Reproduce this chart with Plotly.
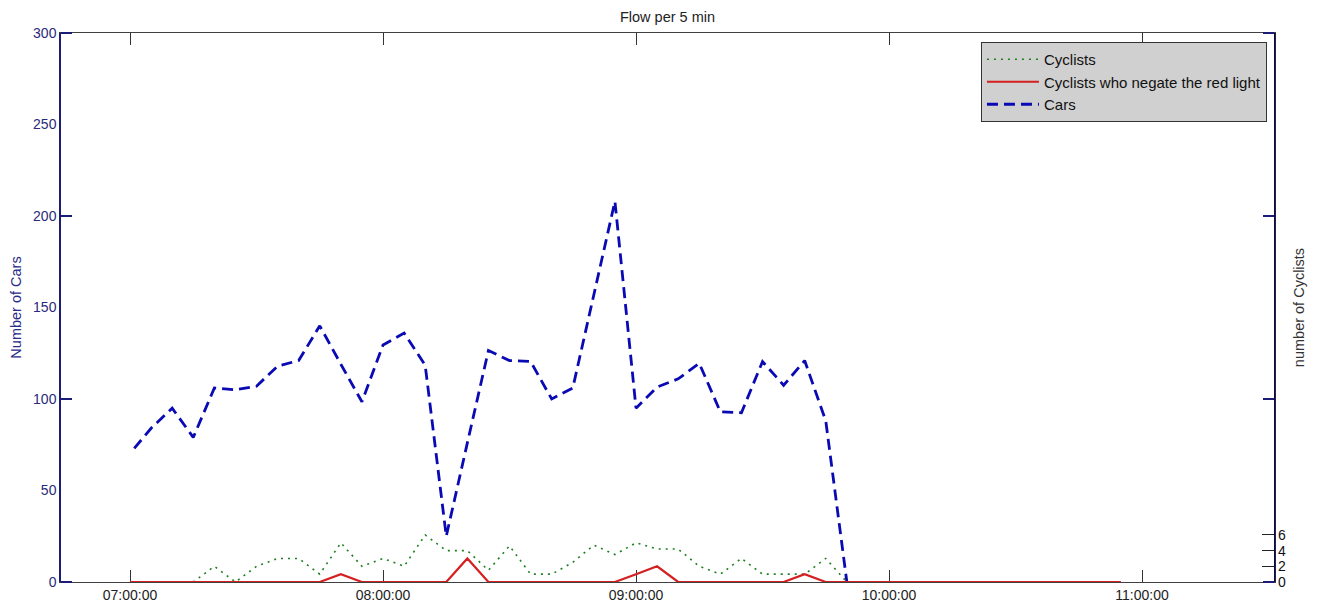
import plotly.graph_objects as go

DAY = "2013-01-01 "

# Cars (left axis), sampled every 5 min; first sample slightly after 07:00
car_times = ["07:01", "07:05", "07:10", "07:15", "07:20", "07:25", "07:30", "07:35",
             "07:40", "07:45", "07:50", "07:55", "08:00", "08:05", "08:10", "08:15",
             "08:20", "08:25", "08:30", "08:35", "08:40", "08:45", "08:50", "08:55",
             "09:00", "09:05", "09:10", "09:15", "09:20", "09:25", "09:30", "09:35",
             "09:40", "09:45", "09:50"]
cars = [73, 84, 95, 79, 106, 105, 107, 118,
        121, 140, 119, 98.5, 129.5, 136, 118.5, 25,
        76, 126.5, 121, 120.5, 100, 106, 157, 208,
        95, 106.5, 111, 119.5, 93, 92.5, 120.5, 107.5,
        121, 88, 0]

# Cyclists (right axis), every 5 min from 07:00 to 10:55
cyc_times = ["07:00", "07:05", "07:10", "07:15", "07:20", "07:25", "07:30", "07:35",
             "07:40", "07:45", "07:50", "07:55", "08:00", "08:05", "08:10", "08:15",
             "08:20", "08:25", "08:30", "08:35", "08:40", "08:45", "08:50", "08:55",
             "09:00", "09:05", "09:10", "09:15", "09:20", "09:25", "09:30", "09:35",
             "09:40", "09:45", "09:50", "09:55", "10:00", "10:05", "10:10", "10:15",
             "10:20", "10:25", "10:30", "10:35", "10:40", "10:45", "10:50", "10:55"]
cyclists = [0, 0, 0, 0, 2, 0, 2, 3,
            3, 1, 5, 2, 3, 2, 6, 4,
            4, 1.5, 4.6, 1, 1, 2.5, 4.7, 3.5,
            5, 4.2, 4.2, 2, 1, 3, 1, 1,
            1, 3, 0, 0, 0, 0, 0, 0,
            0, 0, 0, 0, 0, 0, 0, 0]
red_light = [0, 0, 0, 0, 0, 0, 0, 0,
             0, 0, 1, 0, 0, 0, 0, 0,
             3, 0, 0, 0, 0, 0, 0, 0,
             1, 2, 0, 0, 0, 0, 0, 0,
             1, 0, 0, 0, 0, 0, 0, 0,
             0, 0, 0, 0, 0, 0, 0, 0]

x_ticks = ["07:00:00", "08:00:00", "09:00:00", "10:00:00", "11:00:00"]
left_ticks = [0, 50, 100, 150, 200, 250, 300]
right_ticks = [0, 2, 4, 6]

FONT = "Arial, Liberation Sans, sans-serif"
NAVY = "#1c1c78"

fig = go.Figure()
fig.add_trace(go.Scatter(
    x=[DAY + t for t in cyc_times], y=cyclists, name="Cyclists", yaxis="y2",
    mode="lines", line=dict(color="#1f7f1f", width=1.6, dash="2px,5px")))
fig.add_trace(go.Scatter(
    x=[DAY + t for t in cyc_times], y=red_light, name="Cyclists who negate the red light",
    yaxis="y2", mode="lines", line=dict(color="#d42020", width=2.2)))
fig.add_trace(go.Scatter(
    x=[DAY + t for t in car_times], y=cars, name="Cars", yaxis="y",
    mode="lines", line=dict(color="#0a0ab4", width=2.8, dash="11px,6px")))

fig.update_layout(
    width=1318, height=610,
    margin=dict(l=61, r=44, t=33, b=28, autoexpand=False),
    paper_bgcolor="white", plot_bgcolor="white",
    font=dict(family=FONT, size=14, color="#222222"),
    title=dict(text="Flow per 5 min", x=0.5, xref="paper", y=1 - 17 / 610,
               yanchor="middle", font=dict(size=14.5, color="#222222")),
    showlegend=True,
    legend=dict(x=0.9942, y=0.9836, xanchor="right", yanchor="top",
                bgcolor="#d0d0d0", bordercolor="#333333", borderwidth=1,
                font=dict(size=15, color="#111111"), itemwidth=52,
                tracegroupgap=0),
    xaxis=dict(
        range=[DAY + "06:43:38", DAY + "11:31:18"],
        tickvals=[DAY + t for t in x_ticks], ticktext=x_ticks,
        ticks="inside", ticklen=12, tickcolor="#333333", tickwidth=1,
        showline=True, linecolor="#404040", linewidth=1, mirror="ticks",
        showgrid=False, zeroline=False, automargin=False, layer="below traces",
        tickfont=dict(size=14, color="#222222")),
    yaxis=dict(
        range=[0, 300], tickvals=left_ticks, automargin=False,
        ticks="", showline=True, linecolor=NAVY, linewidth=1.5, mirror="ticks",
        minor=dict(tickvals=[0, 100, 200, 300], ticks="inside", ticklen=11,
                   tickcolor=NAVY, tickwidth=1.5),
        showgrid=False, zeroline=False,
        tickfont=dict(size=14, color="#2a2a7a"),
        title=dict(text="Number of Cars", standoff=8,
                   font=dict(size=14.5, color="#2a2a8a"))),
    yaxis2=dict(
        range=[0, 70], tickvals=right_ticks, overlaying="y", side="right",
        anchor="x", ticks="inside", ticklen=12, tickcolor="#222222",
        showline=True, linecolor="#111111", linewidth=1.2, automargin=False,
        showgrid=False, zeroline=False,
        tickfont=dict(size=14, color="#111111"),
        title=dict(text="number of Cyclists", standoff=8,
                   font=dict(size=14.5, color="#333333"))),
)

fig.write_html("out.html",
               config={"displayModeBar": False},
               post_script="document.body.style.margin='0';"
                           "document.body.style.overflow='hidden';")
